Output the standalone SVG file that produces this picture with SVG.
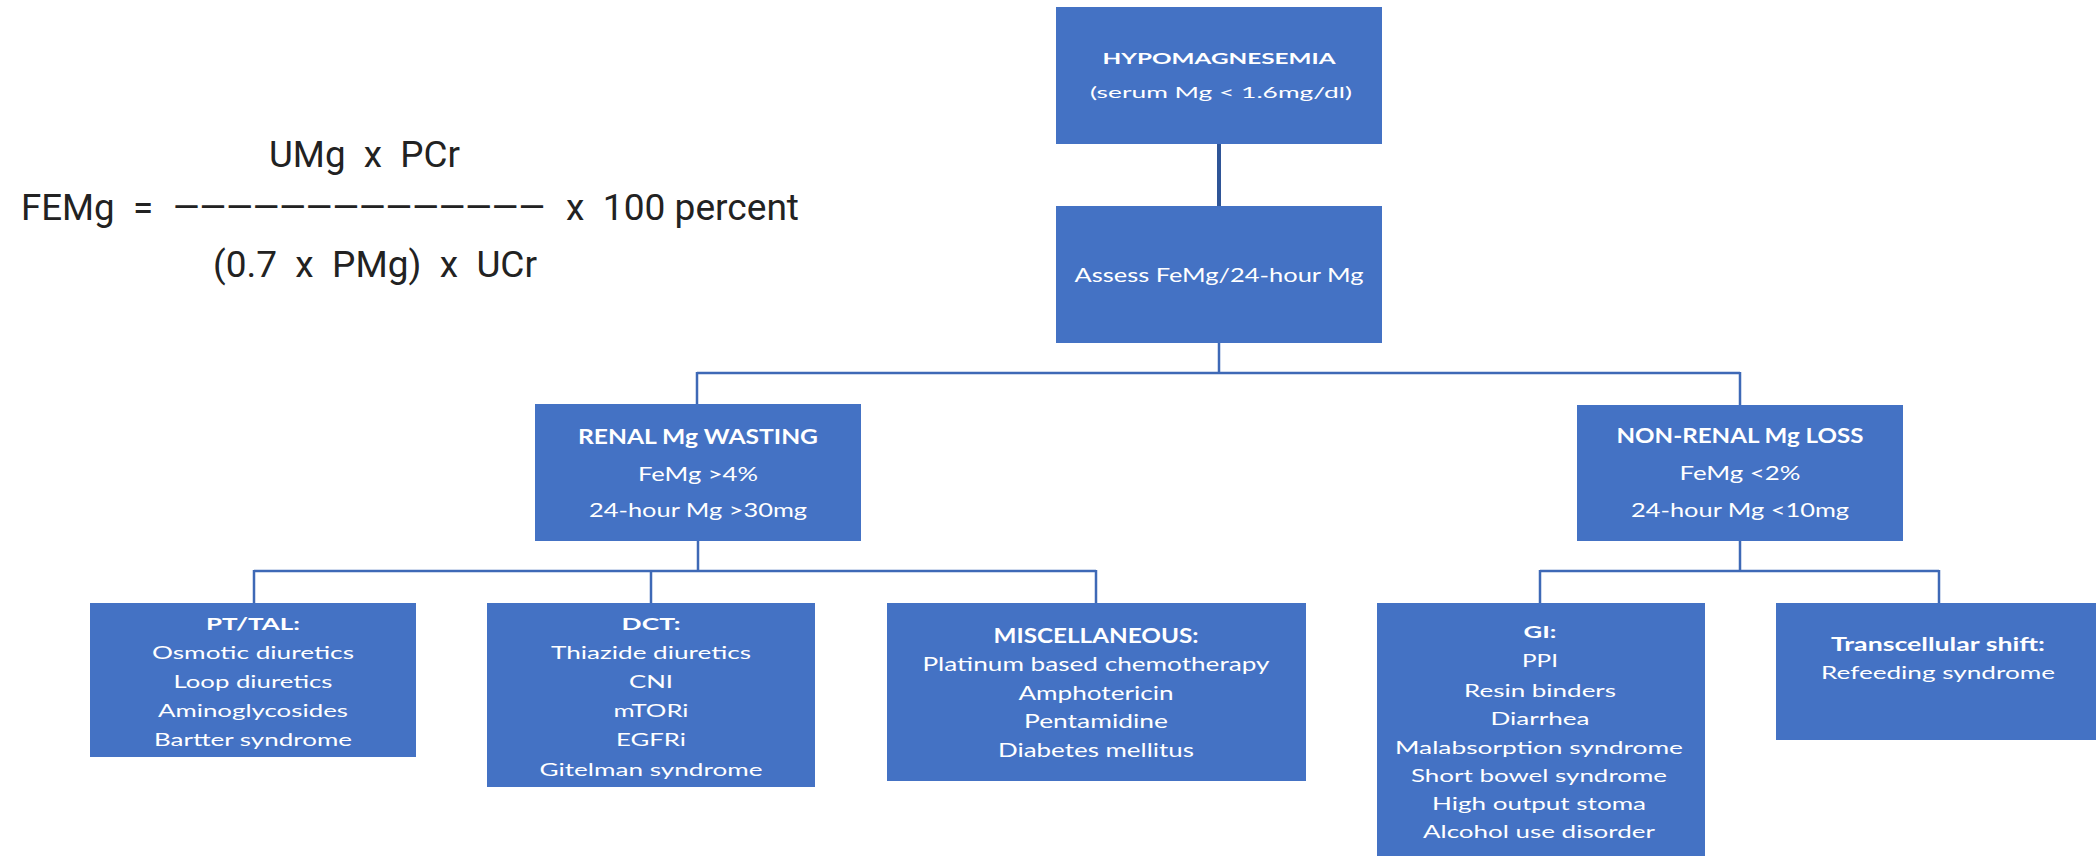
<svg xmlns="http://www.w3.org/2000/svg" width="2096" height="856" viewBox="0 0 2096 856">
<style>
.box{fill:#4472C4}
.t{font-family:Lato,"Open Sans","Liberation Sans",sans-serif;fill:#ffffff;text-anchor:middle}
.b{font-weight:700}
.s15{font-size:16px}
.s16{font-size:17.5px}
.s17{font-size:18px}
.s19{font-size:20px}
.f{font-family:Roboto,"Liberation Sans",sans-serif;font-size:36px;fill:#222222;white-space:pre}
.c{stroke:#3E69B6;stroke-width:2.5;fill:none}
.c0{stroke:#2F5597;stroke-width:4;fill:none}
</style>
<rect width="2096" height="856" fill="#ffffff"/>

<g id="formula">
<text class="f" xml:space="preserve" x="269" y="167" textLength="191" lengthAdjust="spacingAndGlyphs">UMg  x  PCr</text>
<text class="f" xml:space="preserve" x="21" y="220" textLength="132" lengthAdjust="spacingAndGlyphs">FEMg  =</text>
<text class="f" x="173" y="220" textLength="372" lengthAdjust="spacingAndGlyphs">——————————————</text>
<text class="f" xml:space="preserve" x="566" y="220" textLength="233" lengthAdjust="spacingAndGlyphs">x  100 percent</text>
<text class="f" xml:space="preserve" x="213" y="277" textLength="324" lengthAdjust="spacingAndGlyphs">(0.7  x  PMg)  x  UCr</text>
</g>

<g id="connectors">
<path class="c0" d="M1219 144V206"/>
<path class="c" d="M1219 343V373M697 373H1740M697 372V405M1740 372V405"/>
<path class="c" d="M698 541V571M254 571H1096M254 570V603M651 570V603M1096 570V603"/>
<path class="c" d="M1740 541V571M1540 571H1939M1540 570V603M1939 570V603"/>
</g>

<g id="hypomagnesemia">
<rect class="box" x="1056" y="7" width="326" height="137"/>
<text class="t b s15" x="1219" y="64" textLength="233" lengthAdjust="spacingAndGlyphs">HYPOMAGNESEMIA</text>
<text class="t s15" x="1221" y="98" textLength="262" lengthAdjust="spacingAndGlyphs">(serum Mg &lt; 1.6mg/dl)</text>
</g>

<g id="assess">
<rect class="box" x="1056" y="206" width="326" height="137"/>
<text class="t s19" x="1219" y="282" textLength="289" lengthAdjust="spacingAndGlyphs">Assess FeMg/24-hour Mg</text>
</g>

<g id="renal">
<rect class="box" x="535" y="404" width="326" height="137"/>
<text class="t b s19" x="698" y="444" textLength="240" lengthAdjust="spacingAndGlyphs">RENAL Mg WASTING</text>
<text class="t s19" x="698" y="481" textLength="120" lengthAdjust="spacingAndGlyphs">FeMg &gt;4%</text>
<text class="t s19" x="698" y="517" textLength="218" lengthAdjust="spacingAndGlyphs">24-hour Mg &gt;30mg</text>
</g>

<g id="nonrenal">
<rect class="box" x="1577" y="405" width="326" height="136"/>
<text class="t b s19" x="1740" y="443" textLength="247" lengthAdjust="spacingAndGlyphs">NON-RENAL Mg LOSS</text>
<text class="t s19" x="1740" y="480" textLength="121" lengthAdjust="spacingAndGlyphs">FeMg &lt;2%</text>
<text class="t s19" x="1740" y="517" textLength="218" lengthAdjust="spacingAndGlyphs">24-hour Mg &lt;10mg</text>
</g>

<g id="pttal">
<rect class="box" x="90" y="603" width="326" height="154"/>
<text class="t b s16" x="253" y="629.5" textLength="94" lengthAdjust="spacingAndGlyphs">PT/TAL:</text>
<text class="t s16" x="253" y="658.6" textLength="202" lengthAdjust="spacingAndGlyphs">Osmotic diuretics</text>
<text class="t s16" x="253" y="687.7" textLength="159" lengthAdjust="spacingAndGlyphs">Loop diuretics</text>
<text class="t s16" x="253" y="716.8" textLength="190" lengthAdjust="spacingAndGlyphs">Aminoglycosides</text>
<text class="t s16" x="253" y="745.9" textLength="198" lengthAdjust="spacingAndGlyphs">Bartter syndrome</text>
</g>

<g id="dct">
<rect class="box" x="487" y="603" width="328" height="184"/>
<text class="t b s16" x="651" y="629.5" textLength="59" lengthAdjust="spacingAndGlyphs">DCT:</text>
<text class="t s16" x="651" y="658.6" textLength="200" lengthAdjust="spacingAndGlyphs">Thiazide diuretics</text>
<text class="t s16" x="651" y="687.7" textLength="44" lengthAdjust="spacingAndGlyphs">CNI</text>
<text class="t s16" x="651" y="716.8" textLength="75" lengthAdjust="spacingAndGlyphs">mTORi</text>
<text class="t s16" x="651" y="745.9" textLength="70" lengthAdjust="spacingAndGlyphs">EGFRi</text>
<text class="t s16" x="651" y="775.5" textLength="223" lengthAdjust="spacingAndGlyphs">Gitelman syndrome</text>
</g>

<g id="misc">
<rect class="box" x="887" y="603" width="419" height="178"/>
<text class="t b s19" x="1096" y="643" textLength="205" lengthAdjust="spacingAndGlyphs">MISCELLANEOUS:</text>
<text class="t s19" x="1096" y="671" textLength="347" lengthAdjust="spacingAndGlyphs">Platinum based chemotherapy</text>
<text class="t s19" x="1096" y="699.5" textLength="155" lengthAdjust="spacingAndGlyphs">Amphotericin</text>
<text class="t s19" x="1096" y="728" textLength="144" lengthAdjust="spacingAndGlyphs">Pentamidine</text>
<text class="t s19" x="1096" y="756.7" textLength="196" lengthAdjust="spacingAndGlyphs">Diabetes mellitus</text>
</g>

<g id="gi">
<rect class="box" x="1377" y="603" width="328" height="260"/>
<text class="t b s16" x="1540" y="638.3" textLength="33" lengthAdjust="spacingAndGlyphs">GI:</text>
<text class="t s16" x="1540" y="666.7" textLength="36" lengthAdjust="spacingAndGlyphs">PPI</text>
<text class="t s16" x="1540" y="696.5" textLength="152" lengthAdjust="spacingAndGlyphs">Resin binders</text>
<text class="t s16" x="1540" y="725" textLength="99" lengthAdjust="spacingAndGlyphs">Diarrhea</text>
<text class="t s16" x="1539" y="754" textLength="288" lengthAdjust="spacingAndGlyphs">Malabsorption syndrome</text>
<text class="t s16" x="1539" y="782" textLength="256" lengthAdjust="spacingAndGlyphs">Short bowel syndrome</text>
<text class="t s16" x="1539" y="810" textLength="214" lengthAdjust="spacingAndGlyphs">High output stoma</text>
<text class="t s16" x="1539" y="838.3" textLength="232" lengthAdjust="spacingAndGlyphs">Alcohol use disorder</text>
</g>

<g id="transcellular">
<rect class="box" x="1776" y="603" width="326" height="137"/>
<text class="t b s17" x="1938" y="651" textLength="214" lengthAdjust="spacingAndGlyphs">Transcellular shift:</text>
<text class="t s17" x="1938" y="679" textLength="234" lengthAdjust="spacingAndGlyphs">Refeeding syndrome</text>
</g>
</svg>
